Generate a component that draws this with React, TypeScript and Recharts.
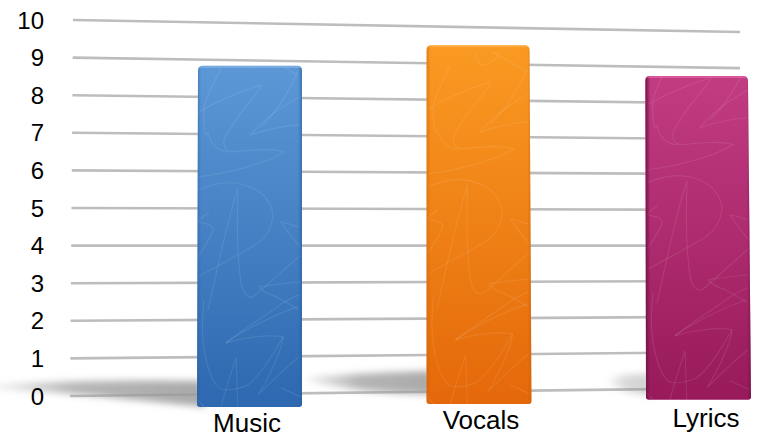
import { ComposedChart, Bar, XAxis, YAxis, ReferenceLine } from "recharts";

const categories = ["Music", "Vocals", "Lyrics"];
const barLows = [-0.29, -0.21, -0.1];
const barHighs = [8.78, 9.33, 8.51];

const yTicks = [0, 1, 2, 3, 4, 5, 6, 7, 8, 9, 10];
const gridRightEnds = [0.21, 1.17, 2.11, 3.06, 4.0, 4.95, 5.9, 6.83, 7.78, 8.72, 9.68];

const data = categories.map((name, i) => ({ name, range: [barLows[i], barHighs[i]] }));

const barStyles = [
  { top: "#5c98d6", bottom: "#2d68b0", rim: "#8fbcec", side: "#2a5f9f", nudge: -1, labelDx: -3, labelDy: -4, skewL: 1, skewR: 0, shadow: 0.85, edgeLeft: 0.5 },
  { top: "#fa9a22", bottom: "#e4680a", rim: "#ffb653", side: "#c9630c", nudge: 4.5, labelDx: 7, labelDy: -7, skewL: 0, skewR: -2, shadow: 0.85, edgeLeft: 0.5 },
  { top: "#c23c82", bottom: "#981a5b", rim: "#ec6fb0", side: "#6e1644", nudge: 0, labelDx: 8, labelDy: -9, skewL: -1, skewR: -3, shadow: 0.45, edgeLeft: 0.9 },
];

const scribble = [
  "M0 47C25 32 45 25 64 19C68 22 40 45 27 74C26 82 30 86 37 86C55 84 75 82 87 86C70 97 30 108 0 111",
  "M24 2C18 15 10 28 7 41C6 55 8 75 11 67C14 80 22 85 31 86",
  "M106 29C85 40 65 55 54 69C68 64 85 60 102 59",
  "M101 6C92 25 78 48 64 61",
  "M1 124C20 116 37 115 50 120C68 125 76 140 76 151C74 165 68 172 61 177C50 185 20 200 1 211",
  "M41 122C30 155 20 205 11 244M41 122C40 150 40 190 44 217C46 227 50 232 56 231C70 220 90 200 104 189",
  "M12 147C6 150 3 153 1 156C8 158 16 158 16 164C14 172 6 183 1 191",
  "M84 156C90 157 96 159 101 161M84 156C90 165 97 175 104 182",
  "M62 221C75 219 90 217 104 216M62 221C66 225 70 228 74 229C85 233 95 240 102 244",
  "M102 229C92 233 85 237 79 242C60 255 40 268 29 277",
  "M7 234C4 260 6 285 11 301C15 315 20 323 27 324C35 324 45 322 51 319C65 308 78 285 86 271",
  "M29 277C45 272 70 268 86 271C85 285 70 315 61 329C75 315 90 300 102 291",
  "M29 277C50 262 80 248 101 241",
  "M39 292C35 305 28 325 24 341M39 292C40 310 40 330 41 341",
  "M84 322C90 325 97 328 104 331M1 334C3 337 5 339 7 341",
  "M48 -11C50 -5 52 0 55 2C62 2 68 -3 73 -8C72 -10 68 -9 65 -11C78 -5 90 3 100 9",
];

// shadows fall to the left of each bar, drawn relative to its left edge and foot
const shadowShapes = [
  "M-210 -21C-130 -27 -50 -27 4 -26L8 0C-40 -4 -130 -15 -210 -19Z",
  "M-118 -27C-80 -30 -40 -32 4 -33L8 -10C-40 -10 -80 -14 -118 -23Z",
  "M-36 -23C-24 -25 -12 -26 4 -26L6 -4C-10 -6 -24 -8 -36 -14Z",
];

function GlossBar(props: any) {
  const { x, y, width, height, index } = props;
  const s = barStyles[index];
  const left = x + s.nudge;
  const right = left + width;
  const foot = y + height;
  const r = 5;
  const outline = `M${left + s.skewL + r} ${y}L${right + s.skewR - r} ${y}Q${right + s.skewR} ${y} ${right + s.skewR} ${y + r}L${right} ${foot - 3}Q${right} ${foot} ${right - 3} ${foot}L${left + 3} ${foot}Q${left} ${foot} ${left} ${foot - 3}L${left + s.skewL} ${y + r}Q${left + s.skewL} ${y} ${left + s.skewL + r} ${y}Z`;
  return (
    <g>
      <defs>
        <linearGradient id={`face${index}`} x1="0" y1="0" x2="0" y2="1">
          <stop offset="0%" stopColor={s.top} />
          <stop offset="100%" stopColor={s.bottom} />
        </linearGradient>
        <linearGradient id={`edge${index}`} x1="0" y1="0" x2="1" y2="0">
          <stop offset="0%" stopColor={s.side} stopOpacity={s.edgeLeft} />
          <stop offset="4%" stopColor={s.side} stopOpacity={0} />
          <stop offset="96%" stopColor={s.side} stopOpacity={0} />
          <stop offset="100%" stopColor={s.side} stopOpacity={0.6} />
        </linearGradient>
        <linearGradient id={`fade${index}`} x1="0" y1="0" x2="1" y2="0">
          <stop offset="0%" stopColor="#9a9a9a" stopOpacity={0.2} />
          <stop offset="40%" stopColor="#9a9a9a" stopOpacity={0.85} />
          <stop offset="100%" stopColor="#9a9a9a" stopOpacity={1} />
        </linearGradient>
        <clipPath id={`clip${index}`}>
          <path d={outline} />
        </clipPath>
        <filter id={`blur${index}`} x="-30%" y="-100%" width="160%" height="300%">
          <feGaussianBlur stdDeviation="3.5" />
        </filter>
      </defs>
      <path
        d={shadowShapes[index]}
        transform={`translate(${left} ${foot})`}
        fill={`url(#fade${index})`}
        fillOpacity={s.shadow}
        filter={`url(#blur${index})`}
      />
      <path d={outline} fill={`url(#face${index})`} />
      <g clipPath={`url(#clip${index})`}>
        <g transform={`translate(${left} ${foot - 341})`}>
          {scribble.map((d, i) => (
            <path key={i} d={d} fill="none" stroke="#fff" strokeOpacity={0.09} strokeWidth={1.2} />
          ))}
        </g>
        <rect x={left} y={y} width={width} height={height} fill={`url(#edge${index})`} />
        <rect x={left} y={y} width={width} height={2} fill={s.rim} fillOpacity={0.55} />
      </g>
    </g>
  );
}

function CategoryTick(props: any) {
  const { x, y, payload, index } = props;
  const s = barStyles[index];
  return (
    <text x={x + s.labelDx} y={y + s.labelDy} textAnchor="middle" fontSize={26} fill="#000">
      {payload.value}
    </text>
  );
}

export default function App() {
  return (
    <div style={{ position: "absolute", left: 0, top: 0, width: 761, height: 438, overflow: "hidden", background: "#fff", fontFamily: "'Liberation Sans', Arial, sans-serif" }}>
      <ComposedChart width={761} height={438} data={data} margin={{ top: 20, right: 8, bottom: 3.4, left: 0 }}>
        <XAxis
          xAxisId="bars"
          dataKey="name"
          height={1}
          padding={{ left: 68, right: -57 }}
          axisLine={false}
          tickLine={false}
          tickSize={0}
          tick={<CategoryTick />}
          interval={0}
        />
        <XAxis xAxisId="grid" type="number" dataKey={() => 0} domain={[0, 1]} allowDataOverflow hide />
        <YAxis
          width={70}
          domain={[-1, 10]}
          ticks={yTicks}
          interval={0}
          axisLine={false}
          tickLine={false}
          tickSize={0}
          tickMargin={26}
          tick={{ fontSize: 24, fill: "#000" }}
        />
        {yTicks.map((v, i) => (
          <ReferenceLine
            key={v}
            xAxisId="grid"
            ifOverflow="visible"
            zIndex={-10}
            segment={[
              { x: v * 0.00044, y: v },
              { x: 0.981, y: gridRightEnds[i] },
            ]}
            stroke="#bdbdbd"
            strokeWidth={2.6}
          />
        ))}
        <Bar xAxisId="bars" dataKey="range" barSize={105} shape={<GlossBar />} isAnimationActive={false} />
      </ComposedChart>
    </div>
  );
}
